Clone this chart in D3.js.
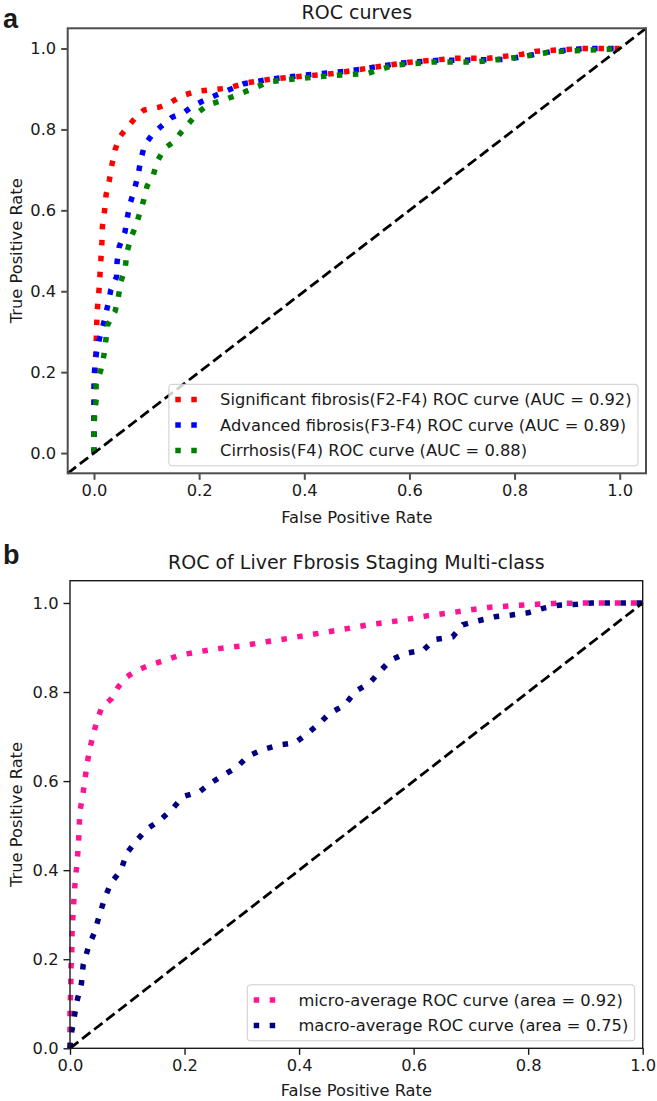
<!DOCTYPE html>
<html>
<head>
<meta charset="utf-8">
<script src="https://cdn.jsdelivr.net/npm/d3@7"></script>
<style>
  html, body { margin: 0; padding: 0; background: #fff; }
  svg { display: block; }
  text { font-family: "DejaVu Sans", sans-serif; fill: #1a1a1a; }
</style>
</head>
<body>
<svg id="chart" width="657" height="1101"></svg>
<script>
// ---------- DATA (FPR, TPR) ----------
const tickValues = [0, 0.2, 0.4, 0.6, 0.8, 1.0];

const titleA = "ROC curves";
const titleB = "ROC of Liver Fbrosis Staging Multi-class";

const labelsA = [
  "Significant fibrosis(F2-F4) ROC curve (AUC = 0.92)",
  "Advanced fibrosis(F3-F4) ROC curve (AUC = 0.89)",
  "Cirrhosis(F4) ROC curve (AUC = 0.88)"
];
const colorsA = ["#ff0000", "#0000ff", "#008000"];

const significantF2F4 = [[0,0],[0,0.10],[0.002,0.2],[0.004,0.265],[0.005,0.309],[0.006,0.351],[0.009,0.393],[0.011,0.432],[0.013,0.475],[0.015,0.52],[0.016,0.56],[0.020,0.598],[0.023,0.638],[0.029,0.673],[0.034,0.712],[0.040,0.749],[0.048,0.780],[0.062,0.803],[0.078,0.828],[0.095,0.848],[0.124,0.855],[0.145,0.866],[0.166,0.883],[0.198,0.895],[0.254,0.902],[0.294,0.916],[0.335,0.924],[0.382,0.930],[0.455,0.938],[0.519,0.951],[0.599,0.966],[0.687,0.976],[0.751,0.976],[0.815,0.986],[0.839,0.993],[0.928,1.0],[1,1]];

const advancedF3F4 = [[0,0],[0,0.05],[0,0.094],[0,0.139],[0,0.181],[0.002,0.222],[0.006,0.259],[0.013,0.296],[0.020,0.329],[0.027,0.370],[0.032,0.403],[0.043,0.436],[0.044,0.473],[0.048,0.510],[0.059,0.547],[0.063,0.580],[0.069,0.618],[0.077,0.652],[0.084,0.688],[0.089,0.725],[0.096,0.760],[0.110,0.786],[0.129,0.809],[0.148,0.830],[0.169,0.840],[0.186,0.856],[0.205,0.869],[0.238,0.888],[0.285,0.913],[0.334,0.924],[0.398,0.934],[0.483,0.944],[0.583,0.964],[0.655,0.971],[0.691,0.971],[0.783,0.973],[0.847,0.987],[0.872,0.993],[0.932,1.0],[1,1]];

const cirrhosisF4 = [[0,0],[0,0.05],[0.001,0.09],[0.004,0.131],[0.004,0.173],[0.013,0.205],[0.019,0.243],[0.023,0.284],[0.026,0.317],[0.040,0.350],[0.046,0.383],[0.051,0.424],[0.059,0.454],[0.063,0.498],[0.070,0.531],[0.079,0.560],[0.087,0.593],[0.095,0.627],[0.101,0.660],[0.113,0.688],[0.121,0.723],[0.134,0.753],[0.152,0.770],[0.167,0.795],[0.183,0.819],[0.198,0.842],[0.217,0.861],[0.243,0.871],[0.270,0.884],[0.334,0.918],[0.390,0.926],[0.462,0.934],[0.519,0.938],[0.571,0.959],[0.647,0.967],[0.727,0.967],[0.811,0.979],[0.871,0.992],[0.907,0.994],[1,1]];

const labelsB = [
  "micro-average ROC curve (area = 0.92)",
  "macro-average ROC curve (area = 0.75)"
];
const colorsB = ["#ff1493", "#000080"];

const microAverage = [[0,0],[0,0.05],[0,0.095],[0.0015,0.134],[0.0015,0.176],[0.003,0.214],[0.0035,0.254],[0.005,0.296],[0.007,0.337],[0.009,0.374],[0.012,0.412],[0.0145,0.453],[0.016,0.490],[0.017,0.531],[0.022,0.565],[0.026,0.603],[0.030,0.640],[0.035,0.675],[0.041,0.707],[0.048,0.739],[0.055,0.764],[0.073,0.786],[0.084,0.811],[0.098,0.833],[0.116,0.848],[0.140,0.861],[0.163,0.870],[0.192,0.883],[0.227,0.891],[0.262,0.898],[0.297,0.903],[0.343,0.913],[0.384,0.921],[0.416,0.928],[0.469,0.939],[0.521,0.951],[0.573,0.960],[0.623,0.971],[0.675,0.980],[0.730,0.990],[0.786,0.995],[0.844,0.999],[0.902,1.0],[1,1]];

const macroAverage = [[0,0],[0.0015,0.026],[0.007,0.067],[0.012,0.105],[0.020,0.146],[0.023,0.187],[0.032,0.227],[0.042,0.258],[0.051,0.297],[0.060,0.335],[0.071,0.370],[0.089,0.400],[0.099,0.438],[0.116,0.466],[0.134,0.492],[0.158,0.513],[0.179,0.538],[0.197,0.565],[0.226,0.576],[0.246,0.596],[0.269,0.614],[0.292,0.632],[0.311,0.656],[0.335,0.670],[0.364,0.681],[0.393,0.686],[0.415,0.707],[0.436,0.730],[0.453,0.752],[0.480,0.771],[0.498,0.801],[0.523,0.820],[0.541,0.846],[0.560,0.872],[0.587,0.887],[0.617,0.894],[0.637,0.918],[0.668,0.924],[0.686,0.951],[0.713,0.960],[0.742,0.969],[0.771,0.973],[0.800,0.978],[0.826,0.988],[0.853,0.995],[0.885,0.997],[0.911,1.0],[1,1]];

// ---------- DRAW ----------
const svg = d3.select("#chart");
const FS = 16.3;
const DOT_W = 5.5, DOT_DASH = "5.5,10.5";

function panel(cfg) {
  const x = d3.scaleLinear().domain(cfg.xDomain).range([cfg.left, cfg.right]);
  const y = d3.scaleLinear().domain(cfg.yDomain).range([cfg.bottom, cfg.top]);
  const g = svg.append("g");

  // series
  const line = d3.line().x(d => x(d[0])).y(d => y(d[1]));
  cfg.series.forEach((s, i) => {
    g.append("path").datum(s).attr("d", line)
      .attr("fill", "none").attr("stroke", cfg.colors[i])
      .attr("stroke-width", DOT_W).attr("stroke-dasharray", DOT_DASH)
      .attr("stroke-linecap", "butt");
  });

  // diagonal reference line
  const diag = [[cfg.diag[0], cfg.diag[0]], [cfg.diag[1], cfg.diag[1]]];
  g.append("path").datum(diag).attr("d", line)
    .attr("fill", "none").attr("stroke", "#000").attr("stroke-width", 2.8)
    .attr("stroke-dasharray", "10.5,4.8");

  // axes
  const ax = g.append("g").attr("transform", `translate(0,${cfg.bottom})`)
    .call(d3.axisBottom(x).tickValues(tickValues).tickFormat(d3.format(".1f")).tickSize(6.5).tickPadding(5));
  const ay = g.append("g").attr("transform", `translate(${cfg.left},0)`)
    .call(d3.axisLeft(y).tickValues(tickValues).tickFormat(d3.format(".1f")).tickSize(6.5).tickPadding(5));
  [ax, ay].forEach(a => {
    a.select(".domain").remove();
    a.selectAll(".tick line").attr("stroke", cfg.spine).attr("stroke-width", cfg.spineW);
    a.selectAll(".tick text").attr("font-size", FS).attr("fill", "#1a1a1a")
      .style("font-family", "DejaVu Sans");
  });

  // frame
  g.append("rect").attr("x", cfg.left).attr("y", cfg.top)
    .attr("width", cfg.right - cfg.left).attr("height", cfg.bottom - cfg.top)
    .attr("fill", "none").attr("stroke", cfg.spine).attr("stroke-width", cfg.spineW);

  // titles and labels
  const cx = (cfg.left + cfg.right) / 2;
  g.append("text").attr("x", cx).attr("y", cfg.titleY).attr("text-anchor", "middle")
    .attr("dominant-baseline", "central").attr("font-size", 19).text(cfg.title);
  g.append("text").attr("x", cx).attr("y", cfg.xLabelY).attr("text-anchor", "middle")
    .attr("dominant-baseline", "central").attr("font-size", FS).text("False Positive Rate");
  g.append("text").attr("transform", `translate(16.7,${(cfg.top + cfg.bottom) / 2}) rotate(-90)`)
    .attr("text-anchor", "middle").attr("dominant-baseline", "central")
    .attr("font-size", FS).text("True Positive Rate");
  g.append("text").attr("x", cfg.letterX).attr("y", cfg.letterY)
    .attr("font-size", 27).attr("font-weight", "bold")
    .style("font-family", "'Liberation Sans', Arial, sans-serif")
    .attr("fill", "#000").text(cfg.letter);

  // legend
  const lg = g.append("g");
  const rowH = 25.5, pad = 6.4, handle = 32, textPad = 12.8;
  const texts = cfg.labels.map((l, i) => lg.append("text").attr("font-size", FS)
    .attr("dominant-baseline", "central").text(l));
  const tw = d3.max(texts, t => t.node().getComputedTextLength());
  const boxW = pad + handle + textPad + tw + pad;
  const boxH = cfg.labels.length * rowH + 5;
  const bx = cfg.right - 8 - boxW, by = cfg.bottom - 7.5 - boxH;
  lg.insert("rect", "text").attr("x", bx).attr("y", by).attr("width", boxW).attr("height", boxH)
    .attr("rx", 3).attr("fill", "#fff").attr("fill-opacity", 0.8)
    .attr("stroke", "#cccccc").attr("stroke-width", 1);
  cfg.labels.forEach((l, i) => {
    const ry = by + 2.5 + rowH / 2 + i * rowH;
    lg.append("line").attr("x1", bx + pad).attr("x2", bx + pad + handle)
      .attr("y1", ry).attr("y2", ry).attr("stroke", cfg.colors[i])
      .attr("stroke-width", DOT_W).attr("stroke-dasharray", DOT_DASH);
    texts[i].attr("x", bx + pad + handle + textPad).attr("y", ry);
  });
}

panel({
  left: 67.7, right: 646, top: 28.3, bottom: 473.3,
  xDomain: [-0.05, 1.05], yDomain: [-0.05, 1.05], diag: [-0.05, 1.05],
  series: [significantF2F4, advancedF3F4, cirrhosisF4], colors: colorsA, labels: labelsA,
  title: titleA, titleY: 12, xLabelY: 517, letter: "a", letterX: 3, letterY: 28,
  spine: "#4d4d4d", spineW: 2
});

panel({
  left: 70, right: 642.7, top: 580.7, bottom: 1048.3,
  xDomain: [0, 1], yDomain: [0, 1.05], diag: [0, 1],
  series: [microAverage, macroAverage], colors: colorsB, labels: labelsB,
  title: titleB, titleY: 562, xLabelY: 1090, letter: "b", letterX: 3, letterY: 564,
  spine: "#1a1a1a", spineW: 1.4
});
</script>
</body>
</html>
